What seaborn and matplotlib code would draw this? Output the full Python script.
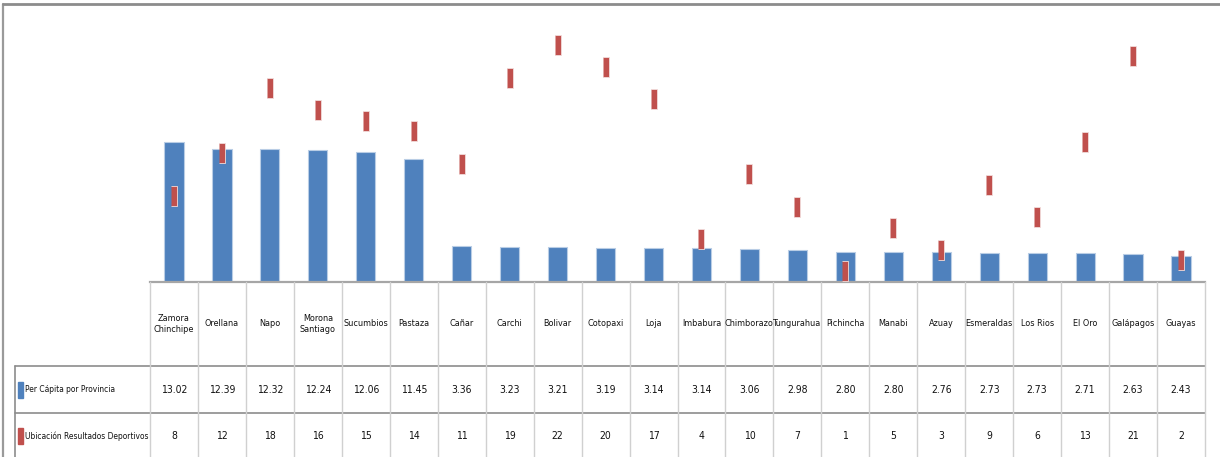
import numpy as np
import pandas as pd
import matplotlib
matplotlib.use("Agg")
import matplotlib.pyplot as plt
from matplotlib import font_manager as fm
from matplotlib.patches import Rectangle
from matplotlib.lines import Line2D
import seaborn as sns

provincias = ["Zamora\nChinchipe", "Orellana", "Napo", "Morona\nSantiago", "Sucumbios",
              "Pastaza", "Cañar", "Carchi", "Bolivar", "Cotopaxi", "Loja", "Imbabura",
              "Chimborazo", "Tungurahua", "Pichincha", "Manabi", "Azuay", "Esmeraldas",
              "Los Rios", "El Oro", "Galápagos", "Guayas"]
per_capita = [13.02, 12.39, 12.32, 12.24, 12.06, 11.45, 3.36, 3.23, 3.21, 3.19, 3.14,
              3.14, 3.06, 2.98, 2.80, 2.80, 2.76, 2.73, 2.73, 2.71, 2.63, 2.43]
ubicacion = [8, 12, 18, 16, 15, 14, 11, 19, 22, 20, 17, 4, 10, 7, 1, 5, 3, 9, 6, 13, 21, 2]
serie_1 = "Per Cápita por Provincia"
serie_2 = "Ubicación Resultados Deportivos"

BLUE = "#4F81BD"
RED = "#C0504D"

sns.set_theme(style="white")
plt.rcParams["font.family"] = ["DejaVu Sans", "Noto Sans"]

# look for a narrow font file, like the Arial Narrow of the original
narrow = None
prefs = ["LiberationSansNarrow-Regular", "DejaVuSansCondensed.", "NotoSans-Condensed.",
         "NotoSans-SemiCondensed.", "Roboto_Condensed-Regular", "RobotoCondensed-Regular",
         "OpenSans_Condensed-Regular", "OpenSans-CondensedRegular"]
files = [f.fname for f in fm.fontManager.ttflist]
for p in prefs:
    hits = [f for f in files if p in f.split("/")[-1]]
    if hits:
        narrow = hits[0]
        break
if narrow:
    fp = fm.FontProperties(fname=narrow)
else:
    fp = fm.FontProperties(family="DejaVu Sans")

df = pd.DataFrame({"provincia": provincias, "per_capita": per_capita, "ubicacion": ubicacion})

W, H = 1220, 457
fig = plt.figure(figsize=(W / 100, H / 100), dpi=100)

# main plot area: x 150..1205 px, y 13..282 px (from top)
x0, x1 = 150, 1205
ax = fig.add_axes([x0 / W, 1 - 282 / H, (x1 - x0) / W, (282 - 13) / H])
sns.barplot(data=df, x="provincia", y="per_capita", order=provincias, color=BLUE,
            width=0.4, saturation=1, edgecolor="#B9CDE5", linewidth=0.8, ax=ax)
rect = [(-0.17, -0.5), (0.17, -0.5), (0.17, 0.5), (-0.17, 0.5)]
sns.stripplot(data=df, x="provincia", y="ubicacion", order=provincias, color=RED,
              jitter=False, marker=rect, size=14.5, linewidth=0.6,
              edgecolor="#F2DCDB", ax=ax, zorder=5)
n = len(provincias)
ax.set_xlim(-0.5, n - 0.5)
ax.set_ylim(0, 25)
ax.set_xlabel("")
ax.set_ylabel("")
ax.set_xticks([])
ax.set_yticks([])
for s in ["left", "right", "top"]:
    ax.spines[s].set_visible(False)
ax.spines["bottom"].set_color("#A6A6A6")
ax.spines["bottom"].set_linewidth(1.6)

# data table below: same x scale, y in px from 282 to 457
tab = fig.add_axes([x0 / W, 0, (x1 - x0) / W, (H - 282) / H], sharex=ax)
tab.set_ylim(H - 282, 0)
tab.axis("off")
cat_w = (x1 - x0) / n
left_edge = -0.5 - (x0 - 15) / cat_w
hcol = "#8C8C8C"
vcol = "#D0D0D0"
for yy in [84, 131]:
    tab.plot([left_edge, n - 0.5], [yy, yy], color=hcol, lw=1.2, clip_on=False)
tab.plot([left_edge, left_edge], [84, 175], color=hcol, lw=1.2, clip_on=False)
for k in range(n + 1):
    xb = k - 0.5
    tab.plot([xb, xb], [0, 175], color=vcol, lw=1, clip_on=False)

renderer = fig.canvas.get_renderer()


def fit_size(texts, max_px):
    # one font size for a group, small enough that every text fits its cell
    return min(t.get_fontsize() * min(1, max_px / t.get_window_extent(renderer).width)
               for t in texts)


fs = 8.6
heads, vals = [], []
for i, name in enumerate(provincias):
    heads.append(tab.text(i, 42, name, ha="center", va="center", fontproperties=fp,
                          fontsize=fs, linespacing=1.25, color="#111111"))
    vals.append(tab.text(i, 108, f"{per_capita[i]:.2f}", ha="center", va="center",
                         fontproperties=fp, fontsize=fs, color="#111111"))
    vals.append(tab.text(i, 154, f"{ubicacion[i]}", ha="center", va="center",
                         fontproperties=fp, fontsize=fs, color="#111111"))
size = fit_size(heads, cat_w - 1) * 1.04
for t in heads:
    t.set_fontsize(size)
for t in vals:
    t.set_fontsize(size * 1.15)

key_x = -0.5 - (x0 - 18) / cat_w
txt_x = -0.5 - (x0 - 25) / cat_w
labs = []
for yc, col, lab in [(108, BLUE, serie_1), (154, RED, serie_2)]:
    tab.add_patch(Rectangle((key_x, yc - 8), 5 / cat_w, 16, color=col, clip_on=False))
    labs.append(tab.text(txt_x, yc, lab, ha="left", va="center", fontproperties=fp,
                         fontsize=fs, color="#111111"))
lsize = fit_size(labs, x0 - 25 - 2)
for t in labs:
    t.set_fontsize(lsize)

# outer frame of the chart
fig.add_artist(Line2D([2.5 / W, 2.5 / W], [0, 1 - 4 / H], color="#9A9A9A", lw=1.6,
                      transform=fig.transFigure))
fig.add_artist(Line2D([2.5 / W, 1], [1 - 4 / H, 1 - 4 / H], color="#8C8C8C", lw=2,
                      transform=fig.transFigure))

fig.savefig("out.png", dpi=100)
